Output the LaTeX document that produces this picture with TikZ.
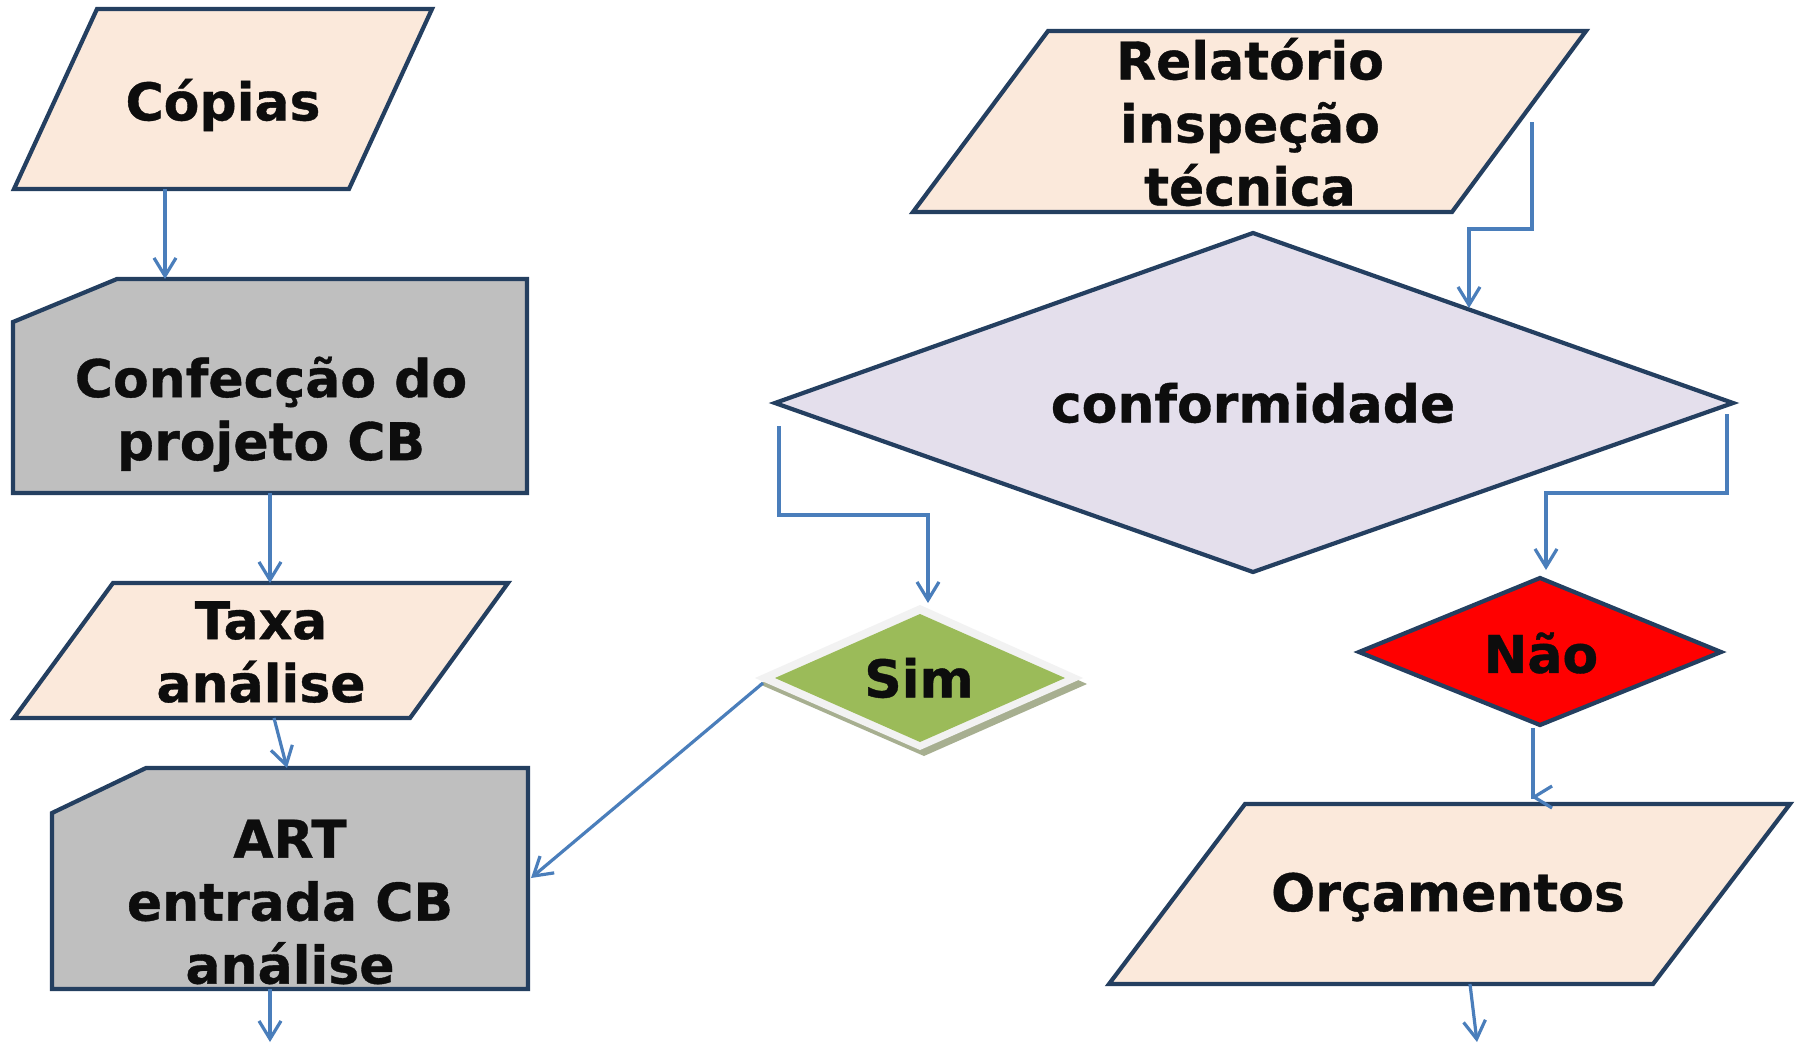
\documentclass[tikz,border=0pt]{standalone}
\usepackage{fontspec}
\setmainfont{DejaVu Sans}[BoldFeatures={FakeBold=0.7}]
\usetikzlibrary{arrows.meta}
\definecolor{peach}{HTML}{FBE9DB}
\definecolor{edgeblue}{HTML}{243F60}
\definecolor{greyfill}{HTML}{BFBFBF}
\definecolor{lav}{HTML}{E4DFEC}
\definecolor{connblue}{HTML}{4A7EBB}
\definecolor{simgreen}{HTML}{9BBB59}
\definecolor{simborder}{HTML}{F2F2F2}
\definecolor{simshadow}{HTML}{A7AF90}
\definecolor{txt}{HTML}{0D0D0D}
\begin{document}
\begin{tikzpicture}[x=1pt,y=-1pt,
  shapebox/.style={draw=edgeblue,line width=4.2pt,line join=miter},
  lbl/.style={font=\fontsize{52}{63}\selectfont\bfseries,align=center,inner sep=0pt,text=txt},
  link/.style={draw=connblue,line width=3.2pt,-{Straight Barb[length=18pt,width=22pt]}}
]
\useasboundingbox[fill=white] (0,0) rectangle (1802,1044);

% shapes
\path[shapebox,fill=peach] (97,9) -- (432,9) -- (349,189) -- (14,189) -- cycle;
\path[shapebox,fill=greyfill] (117,279) -- (527,279) -- (527,493) -- (13,493) -- (13,322) -- cycle;
\path[shapebox,fill=peach] (113,583) -- (508,583) -- (410,718) -- (14,718) -- cycle;
\path[shapebox,fill=greyfill] (146,768) -- (528,768) -- (528,989) -- (52,989) -- (52,813) -- cycle;
\path[shapebox,fill=peach] (1048,31) -- (1586,31) -- (1452,212) -- (913,212) -- cycle;
\path[shapebox,fill=lav] (1253,233) -- (1733,403) -- (1253,572) -- (775,403) -- cycle;
\fill[simshadow] (924,611) -- (1087,684) -- (924,756) -- (759,684) -- cycle;
\fill[simborder] (920,605) -- (1083,678) -- (920,750) -- (755,678) -- cycle;
\fill[simgreen] (920,614) -- (1065,678) -- (920,742) -- (775,678) -- cycle;
\path[shapebox,fill=red] (1540,578) -- (1721,652) -- (1540,725) -- (1359,652) -- cycle;
\path[shapebox,fill=peach] (1245,804) -- (1790,804) -- (1653,984) -- (1109,984) -- cycle;

% texts
\node[lbl] (copias) at (223,105) {Cópias};
\node[lbl] (confeccao) at (271,414) {Confecção do\\projeto CB};
\node[lbl] (taxa) at (261,652) {Taxa\\análise};
\node[lbl] (art) at (290,902) {ART\\entrada CB\\análise};
\node[lbl] (relatorio) at (1250,122) {Relatório\\inspeção\\técnica};
\node[lbl] (conform) at (1253,403) {conformidade};
\node[lbl] (sim) at (919,678) {Sim};
\node[lbl] (nao) at (1541,653) {Não};
\node[lbl] (orc) at (1448,897) {Orçamentos};

% connector end points
\coordinate (copiasOut) at (165,189);
\coordinate (confIn) at (165,279);
\coordinate (confOut) at (270,493);
\coordinate (taxaIn) at (270,583);
\coordinate (taxaOut) at (274,718);
\coordinate (artIn) at (287,768);
\coordinate (artOut) at (270,989);
\coordinate (artEnd) at (270,1042);
\coordinate (simOut) at (763,683);
\coordinate (artSide) at (531,878);
\coordinate (relOut) at (1532,122);
\coordinate (confTopIn) at (1469,308);
\coordinate (confLeft) at (779,426);
\coordinate (simIn) at (928,603);
\coordinate (confRight) at (1727,414);
\coordinate (naoIn) at (1546,570);
\coordinate (naoOut) at (1533,728);
\coordinate (orcIn) at (1531,797);
\coordinate (orcOut) at (1470,984);
\coordinate (orcEnd) at (1477,1042);

% connectors
\draw[link] (copiasOut) -- (confIn);
\draw[link] (confOut) -- (taxaIn);
\draw[link] (taxaOut) -- (artIn);
\draw[link] (artOut) -- (artEnd);
\draw[link] (simOut) -- (artSide);
\draw[link] (relOut) -- (1532,229) -- (1469,229) -- (confTopIn);
\draw[link] (confLeft) -- (779,515) -- (928,515) -- (simIn);
\draw[link] (confRight) -- (1727,493) -- (1546,493) -- (naoIn);
\draw[link] (naoOut) -- (1533,797) -- (orcIn);
\draw[link] (orcOut) -- (orcEnd);
\end{tikzpicture}
\end{document}
